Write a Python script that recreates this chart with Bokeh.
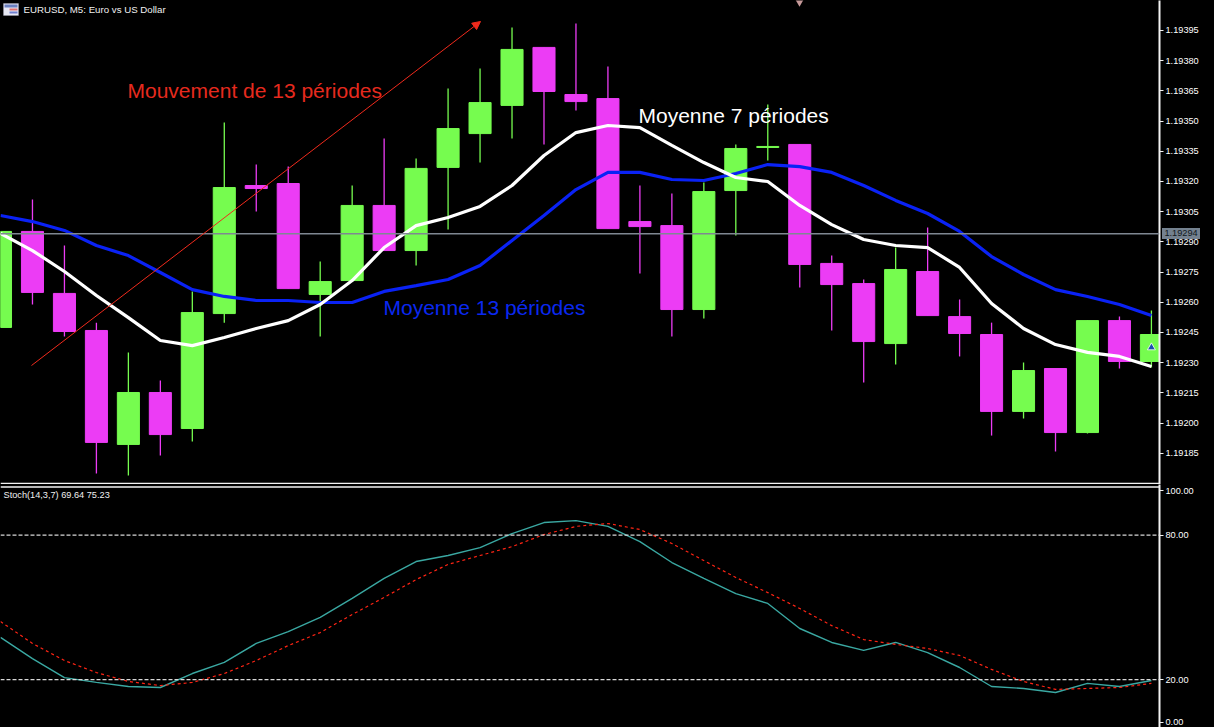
from bokeh.plotting import figure
from bokeh.layouts import column
from bokeh.models import (ColumnDataSource, FixedTicker, Span, Label, Arrow, NormalHead,
                          BoxAnnotation, Range1d, Div)
from bokeh.embed import file_html
from bokeh.resources import INLINE

opens = [1.192475,1.192952,1.192644,1.192460,1.191894,1.192152,1.191973,1.192544,1.193180,1.193190,
         1.192639,1.192708,1.193081,1.192857,1.193270,1.193438,1.193578,1.193866,1.193632,1.193612,
         1.193001,1.192981,1.192564,1.193155,1.193369,1.193384,1.192793,1.192693,1.192395,1.192753,
         1.192529,1.192440,1.192058,1.192271,1.191953,1.192509,1.192306]
closes = [1.192952,1.192649,1.192455,1.191904,1.192152,1.191943,1.192549,1.193170,1.193165,1.192668,
          1.192703,1.193081,1.192857,1.193265,1.193463,1.193592,1.193856,1.193647,1.193597,1.192966,
          1.192976,1.192564,1.193150,1.193364,1.193374,1.192788,1.192688,1.192405,1.192763,1.192534,
          1.192445,1.192058,1.192261,1.191953,1.192509,1.192306,1.192440]
highs = [1.192952,1.193111,1.192882,1.192499,1.192351,1.192212,1.192654,1.193493,1.193284,1.193274,
         1.192803,1.193180,1.193414,1.193314,1.193662,1.193761,1.193965,1.193866,1.193985,1.193771,
         1.193180,1.193140,1.193195,1.193384,1.193582,1.193384,1.192832,1.192713,1.192872,1.192971,
         1.192614,1.192499,1.192301,1.192271,1.192509,1.192529,1.192559]
lows = [1.192475,1.192589,1.192430,1.191750,1.191740,1.191839,1.191909,1.192499,1.193051,1.192668,
        1.192430,1.192708,1.192857,1.192783,1.192961,1.193294,1.193414,1.193384,1.193553,1.192966,
        1.192743,1.192430,1.192519,1.192932,1.193304,1.192673,1.192460,1.192202,1.192291,1.192534,
        1.192331,1.191938,1.192023,1.191859,1.191948,1.192271,1.192276]
ma13 = [1.193031,1.193001,1.192957,1.192882,1.192832,1.192748,1.192663,1.192629,1.192609,1.192609,
        1.192599,1.192599,1.192654,1.192683,1.192713,1.192783,1.192907,1.193031,1.193160,1.193245,
        1.193245,1.193210,1.193205,1.193240,1.193284,1.193274,1.193245,1.193180,1.193106,1.193041,
        1.192952,1.192827,1.192738,1.192663,1.192629,1.192589,1.192534]
ma7 = [1.192942,1.192857,1.192753,1.192634,1.192524,1.192410,1.192385,1.192425,1.192470,1.192509,
       1.192589,1.192708,1.192872,1.192981,1.193021,1.193076,1.193180,1.193329,1.193443,1.193478,
       1.193468,1.193379,1.193294,1.193220,1.193200,1.193081,1.192986,1.192912,1.192882,1.192872,
       1.192773,1.192594,1.192470,1.192390,1.192351,1.192331,1.192281]
stoch_main = [37.5,28.7,20.8,18.8,17.1,16.7,22.5,27.1,35.0,39.9,45.8,53.7,62.0,69.0,71.5,74.8,80.6,85.2,86.0,
              83.6,77.3,68.6,62.0,55.7,51.6,41.2,35.4,32.1,35.4,31.2,25.0,17.1,16.3,14.6,18.4,17.1,19.6]
stoch_signal = [44.1,35.0,27.9,22.9,19.2,17.5,18.8,22.5,27.9,34.1,39.5,47.0,54.1,61.5,67.8,71.5,75.2,80.2,83.6,
                84.8,82.3,76.5,69.4,62.4,56.1,49.5,42.4,36.6,34.6,32.9,30.0,24.2,19.2,15.9,16.3,16.7,18.4]
price_ticks = [1.19185,1.19200,1.19215,1.19230,1.19245,1.19260,1.19275,1.19290,1.19305,1.19320,
               1.19335,1.19350,1.19365,1.19380,1.19395]
stoch_ticks = {98.5: "100.00", 80: "80.00", 20: "20.00", 2.2: "0.00"}
last_price = 1.19294

GREEN, MAGENTA = "#76fc4f", "#ec3cf5"
WHITE = "#f2f2f2"
W, H1, H2, RIGHT = 1214, 484, 243, 55
X0, X1 = 0.0, 1159 / 31.97

def xd(px):
    return px / 31.97

def yd(py):
    return 1.194099 - py * 4.967e-6

def vd(py):
    return (727.2 - py) / 2.408

def base(height, y_range):
    p = figure(width=W, height=height, x_range=Range1d(X0, X1), y_range=y_range,
               output_backend="svg", toolbar_location=None, x_axis_location=None,
               y_axis_location="right", background_fill_color="black", border_fill_color="black",
               min_border_left=0, min_border_top=0, min_border_bottom=0, min_border_right=RIGHT,
               outline_line_color=None)
    p.grid.visible = False
    ax = p.yaxis[0]
    ax.axis_line_color = WHITE
    ax.axis_line_width = 2
    ax.major_tick_line_color = WHITE
    ax.major_tick_out = 4
    ax.major_tick_in = 0
    ax.minor_tick_line_color = None
    ax.major_label_standoff = 2
    ax.major_label_text_color = "white"
    ax.major_label_text_font = "Liberation Sans"
    ax.major_label_text_font_size = "9.2px"
    return p

idx = list(range(len(opens)))
colors = [GREEN if c >= o else MAGENTA for o, c in zip(opens, closes)]
src = ColumnDataSource(dict(x=idx, o=opens, c=closes, h=highs, l=lows, color=colors))

p1 = base(H1, Range1d(yd(484), yd(0)))
p1.yaxis[0].ticker = FixedTicker(ticks=price_ticks)
p1.yaxis[0].major_label_overrides = {t: f"{t:.5f}" for t in price_ticks}
p1.add_layout(Span(location=last_price, dimension="width", line_color="#7f8792", line_width=1.5))
p1.segment("x", "h", "x", "l", source=src, line_color="color", line_width=1.3)
p1.vbar(x="x", top="c", bottom="o", width=0.69, source=src, fill_color="color", line_color="color", line_width=1)
p1.line(idx, ma13, line_color="#0a22f5", line_width=3.2)
p1.line(idx, ma7, line_color="white", line_width=3.2)
p1.add_layout(Arrow(end=NormalHead(size=8, fill_color="#f02a1c", line_color="#f02a1c", line_width=1),
                    x_start=xd(31), y_start=yd(365), x_end=xd(480), y_end=yd(21),
                    line_color="#f02a1c", line_width=1))
p1.add_layout(Span(location=yd(483), dimension="width", line_color=WHITE, line_width=1.5))
p1.scatter([idx[-1]], [yd(347)], marker="triangle", size=8, fill_color="#1c4fb0", line_color="white", line_width=0.8)
p1.scatter([xd(799)], [yd(1)], marker="inverted_triangle", size=9, fill_color="#c79a9a", line_color=None)

def note(plot, text, px, py, size, color, font="Liberation Sans"):
    plot.add_layout(Label(x=xd(px), y=(yd(py) if plot is p1 else vd(py)), text=text, text_color=color,
                          text_font=font, text_font_size=size, text_baseline="middle", text_align="left"))

note(p1, "Mouvement de 13 périodes", 127, 90, "21px", "#e62a1e")
note(p1, "Moyenne 7 périodes", 638, 115, "21px", "white")
note(p1, "Moyenne 13 périodes", 383, 307, "21px", "#0a28f0")
note(p1, "EURUSD, M5:  Euro vs US Dollar", 23, 9, "9.7px", "#f0f0f0")
p1.add_layout(BoxAnnotation(left=xd(3), right=xd(18), top=yd(3), bottom=yd(15), fill_color="#e8e8f4", fill_alpha=1, line_color="#b0b0c8"))
p1.add_layout(BoxAnnotation(left=xd(4), right=xd(17), top=yd(4), bottom=yd(7), fill_color="#6a7fc0", fill_alpha=1, line_color=None))
p1.add_layout(BoxAnnotation(left=xd(9), right=xd(17), top=yd(8), bottom=yd(10), fill_color="#e07070", fill_alpha=1, line_color=None))
p1.add_layout(BoxAnnotation(left=xd(9), right=xd(17), top=yd(11), bottom=yd(13), fill_color="#7080d0", fill_alpha=1, line_color=None))

p2 = base(H2, Range1d(vd(727), vd(484)))
p2.yaxis[0].ticker = FixedTicker(ticks=list(stoch_ticks))
p2.yaxis[0].major_label_overrides = dict(stoch_ticks)
for lvl in (80, 20):
    p2.add_layout(Span(location=lvl, dimension="width", line_color="#d8d8d8", line_width=1.2, line_dash="4 2"))
p2.line(idx, stoch_main, line_color="#3aa8a2", line_width=1.4)
p2.line(idx, stoch_signal, line_color="#ff2414", line_width=1.2, line_dash="3 3")
p2.add_layout(Span(location=100, dimension="width", line_color=WHITE, line_width=1.5))
note(p2, "Stoch(14,3,7) 69.64 75.23", 3, 494, "9.2px", "#f0f0f0")

tag = Div(text=f'<div style="position:absolute;left:1162px;top:-499px;width:38px;height:11px;line-height:11px;'
               f'background:#74818f;color:#101820;font:9.2px/11px \'Liberation Sans\';text-align:center">{last_price:.5f}</div>',
          width=0, height=0, margin=0)
page = column(p1, p2, tag, spacing=0, styles={"background": "black"})
open("out.html", "w").write(file_html(page, INLINE))
